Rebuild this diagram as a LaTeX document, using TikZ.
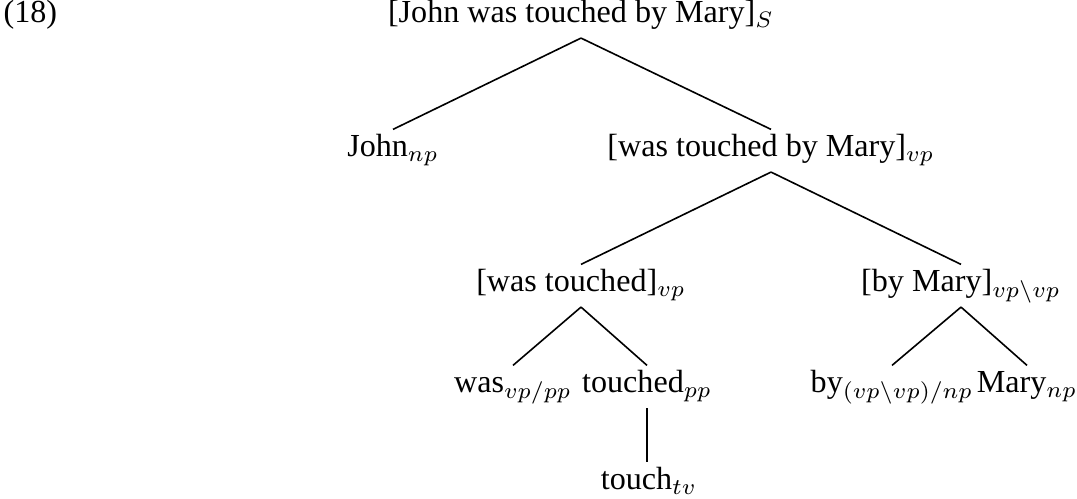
\documentclass[tikz,border=0pt]{standalone}
\usepackage{fontspec}
\setmainfont{Liberation Serif}

\begin{document}
\begin{tikzpicture}[x=0.3115pt, y=-0.3115pt]
   \tikzstyle{every node}=[inner xsep=0pt, inner ysep=1.5pt, text height=0.69em, text depth=0.3em, anchor=base]
   \tikzstyle{branch}=[line width=0.5pt]

\useasboundingbox (0,0) rectangle (1077,499);

\node[anchor=base west] (num) at (3,23) {(18)};
\node (s) at (581,23) {[John was touched by Mary]$_S$};
\node (john) at (393,157) {John$_{np}$};
\node (vp) at (771,157) {[was touched by Mary]$_{vp}$};
\node (wt) at (581,292) {[was touched]$_{vp}$};
\node (bm) at (961,292) {[by Mary]$_{vp\backslash vp}$};
\node (was) at (513,393) {was$_{vp/pp}$};
\node (touched) at (647,393) {touched$_{pp}$};
\node (by) at (892,393) {by$_{(vp\backslash vp)/np}$};
\node (mary) at (1027,393) {Mary$_{np}$};
\node (touch) at (649,490) {touch$_{tv}$};

\draw[branch] (s.south) -- (john.north)
              (s.south) -- (vp.north);
\draw[branch] (vp.south) -- (wt.north)
              (vp.south) -- (bm.north);
\draw[branch] (wt.south) -- (was.north)
              (wt.south) -- (touched.north);
\draw[branch] (bm.south) -- (by.north)
              (bm.south) -- (mary.north);
\draw[branch] (touched.south) -- (touched.south |- touch.north);

\end{tikzpicture}
\end{document}
